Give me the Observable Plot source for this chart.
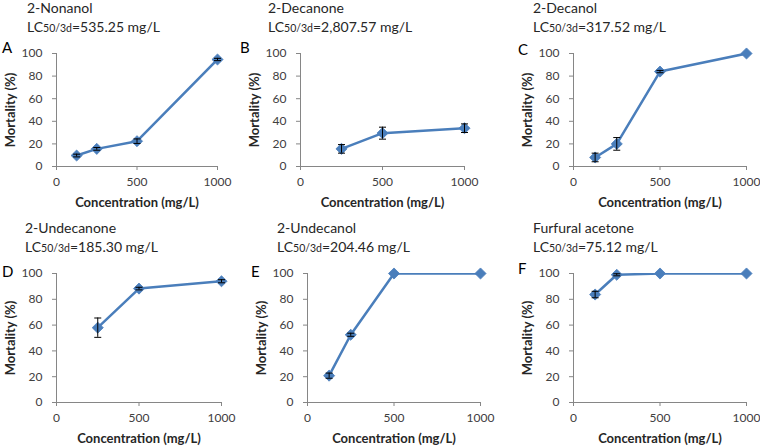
<!DOCTYPE html>
<html><head><meta charset="utf-8">
<script src="https://cdn.jsdelivr.net/npm/d3@7"></script>
<script src="https://cdn.jsdelivr.net/npm/@observablehq/plot@0.6"></script>
<style>
body{margin:0;background:#fff;}
#fig{position:relative;width:760px;height:447px;overflow:hidden;font-family:Lato,sans-serif;background:#fff;}
.t{position:absolute;white-space:nowrap;color:#262626;font-size:14px;line-height:14px;}
.lt{position:absolute;font-size:15px;line-height:15px;color:#000;}
.sub{font-size:0.75em}
</style></head><body><div id="fig"></div><script>
// ---- data ----
const concentrations = [125, 250, 500, 1000];
const compounds = ["2-Nonanol", "2-Decanone", "2-Decanol", "2-Undecanone", "2-Undecanol", "Furfural acetone"];
const lc50 = ["535.25", "2,807.57", "317.52", "185.30", "204.46", "75.12"];
const letters = ["A", "B", "C", "D", "E", "F"];
const mortalityA = [9.7, 15.6, 22.4, 94.7];
const errorA = [1.2, 1.2, 2.0, 1.0];
const mortalityB = [null, 15.6, 29.5, 33.9];
const errorB = [null, 3.8, 5.3, 3.8];
const mortalityC = [8.0, 20.0, 84.0, 100];
const errorC = [3.8, 5.6, 1.0, 0];
const mortalityD = [null, 58.0, 88.3, 94.0];
const errorD = [null, 7.5, 1.0, 1.2];
const mortalityE = [20.8, 52.5, 100, 100];
const errorE = [2.0, 1.2, 0, 0];
const mortalityF = [83.7, 99.0, 100, 100];
const errorF = [2.5, 0.8, 0, 0];
const xTicks = [0, 500, 1000];
const yTicks = [0, 20, 40, 60, 80, 100];
const xTitle = "Concentration (mg/L)";
const yTitle = "Mortality (%)";

const mortality = [mortalityA, mortalityB, mortalityC, mortalityD, mortalityE, mortalityF];
const errors = [errorA, errorB, errorC, errorD, errorE, errorF];

// ---- layout (pixel frame of each panel) ----
const layout = [
  {left: 0,   right: 240, top: 45,  bottom: 212, ax0: 56,  ax1: 217, ay0: 53,  ay1: 166,
   tx: 27,  ty: 1,   lx: 2,   ly: 40},
  {left: 245, right: 490, top: 45,  bottom: 212, ax0: 300, ax1: 464, ay0: 53,  ay1: 166,
   tx: 268, ty: 1,   lx: 240, ly: 40},
  {left: 510, right: 760, top: 45,  bottom: 212, ax0: 573, ax1: 746, ay0: 53,  ay1: 166,
   tx: 533, ty: 1,   lx: 518, ly: 42},
  {left: 0,   right: 240, top: 265, bottom: 447, ax0: 56,  ax1: 221, ay0: 273, ay1: 402,
   tx: 25,  ty: 221, lx: 2,   ly: 264},
  {left: 245, right: 500, top: 265, bottom: 447, ax0: 307, ax1: 480, ay0: 273, ay1: 402,
   tx: 277, ty: 221, lx: 251, ly: 264},
  {left: 510, right: 760, top: 265, bottom: 447, ax0: 573, ax1: 746, ay0: 273, ay1: 402,
   tx: 533, ty: 221, lx: 518, ly: 261}
];

const blue = "#4A7EBB";
const axisGray = "#868686";
const capSymbol = {draw(ctx) { ctx.moveTo(-3.5, 0); ctx.lineTo(3.5, 0); }};

const fig = document.getElementById("fig");

layout.forEach((L, i) => {
  const rows = concentrations.map((c, j) => ({x: c, y: mortality[i][j], e: errors[i][j]}))
    .filter(d => d.y != null);
  const bars = rows.filter(d => d.e > 0);
  const caps = bars.flatMap(d => [{x: d.x, y: d.y - d.e}, {x: d.x, y: Math.min(d.y + d.e, 100)}]);

  const svg = Plot.plot({
    width: L.right - L.left,
    height: L.bottom - L.top,
    marginLeft: L.ax0 - L.left,
    marginRight: L.right - L.ax1,
    marginTop: L.ay0 - L.top,
    marginBottom: L.bottom - L.ay1,
    x: {domain: [0, 1000]},
    y: {domain: [0, 100]},
    style: {fontFamily: "Lato, sans-serif", fontSize: "12px", background: "transparent", overflow: "visible"},
    marks: [
      Plot.axisY({ticks: yTicks, tickFormat: d => String(d), tickSize: 4, tickPadding: 10, stroke: axisGray, fill: "#404040", label: null}),
      Plot.axisX({ticks: xTicks, tickFormat: d => String(d), tickSize: 4, tickPadding: 7, stroke: axisGray, fill: "#404040", label: null}),
      Plot.ruleX([0], {stroke: axisGray}),
      Plot.ruleY([0], {stroke: axisGray}),
      Plot.line(rows, {x: "x", y: "y", stroke: blue, strokeWidth: 2.5, clip: true}),
      Plot.dot(rows, {x: "x", y: "y", symbol: "diamond2", r: 5, fill: blue, stroke: blue, strokeWidth: 0.8}),
      Plot.ruleX(bars, {x: "x", y1: d => d.y - d.e, y2: d => Math.min(d.y + d.e, 100), stroke: "#000", strokeWidth: 1}),
      Plot.dot(caps, {x: "x", y: "y", symbol: capSymbol, stroke: "#000", fill: "none", strokeWidth: 1}),
      Plot.text([xTitle], {text: d => d, frameAnchor: "bottom", dy: 36, lineAnchor: "middle", textAnchor: "middle", fontWeight: "bold", fontSize: 13, fill: "#262626"}),
      Plot.text([yTitle], {text: d => d, frameAnchor: "left", dx: -46, rotate: -90, lineAnchor: "middle", textAnchor: "middle", fontWeight: "bold", fontSize: 13, fill: "#262626"})
    ]
  });
  svg.style.position = "absolute";
  svg.style.left = L.left + "px";
  svg.style.top = L.top + "px";
  fig.appendChild(svg);

  const t1 = document.createElement("div");
  t1.className = "t";
  t1.style.left = L.tx + "px"; t1.style.top = L.ty + "px";
  t1.textContent = compounds[i];
  fig.appendChild(t1);

  const t2 = document.createElement("div");
  t2.className = "t";
  t2.style.left = L.tx + "px"; t2.style.top = (L.ty + 19) + "px";
  t2.innerHTML = 'LC<span class="sub">50/3d</span>=' + lc50[i] + ' mg/L';
  fig.appendChild(t2);

  const lt = document.createElement("div");
  lt.className = "lt";
  lt.style.left = L.lx + "px"; lt.style.top = L.ly + "px";
  lt.textContent = letters[i];
  fig.appendChild(lt);
});
</script></body></html>
